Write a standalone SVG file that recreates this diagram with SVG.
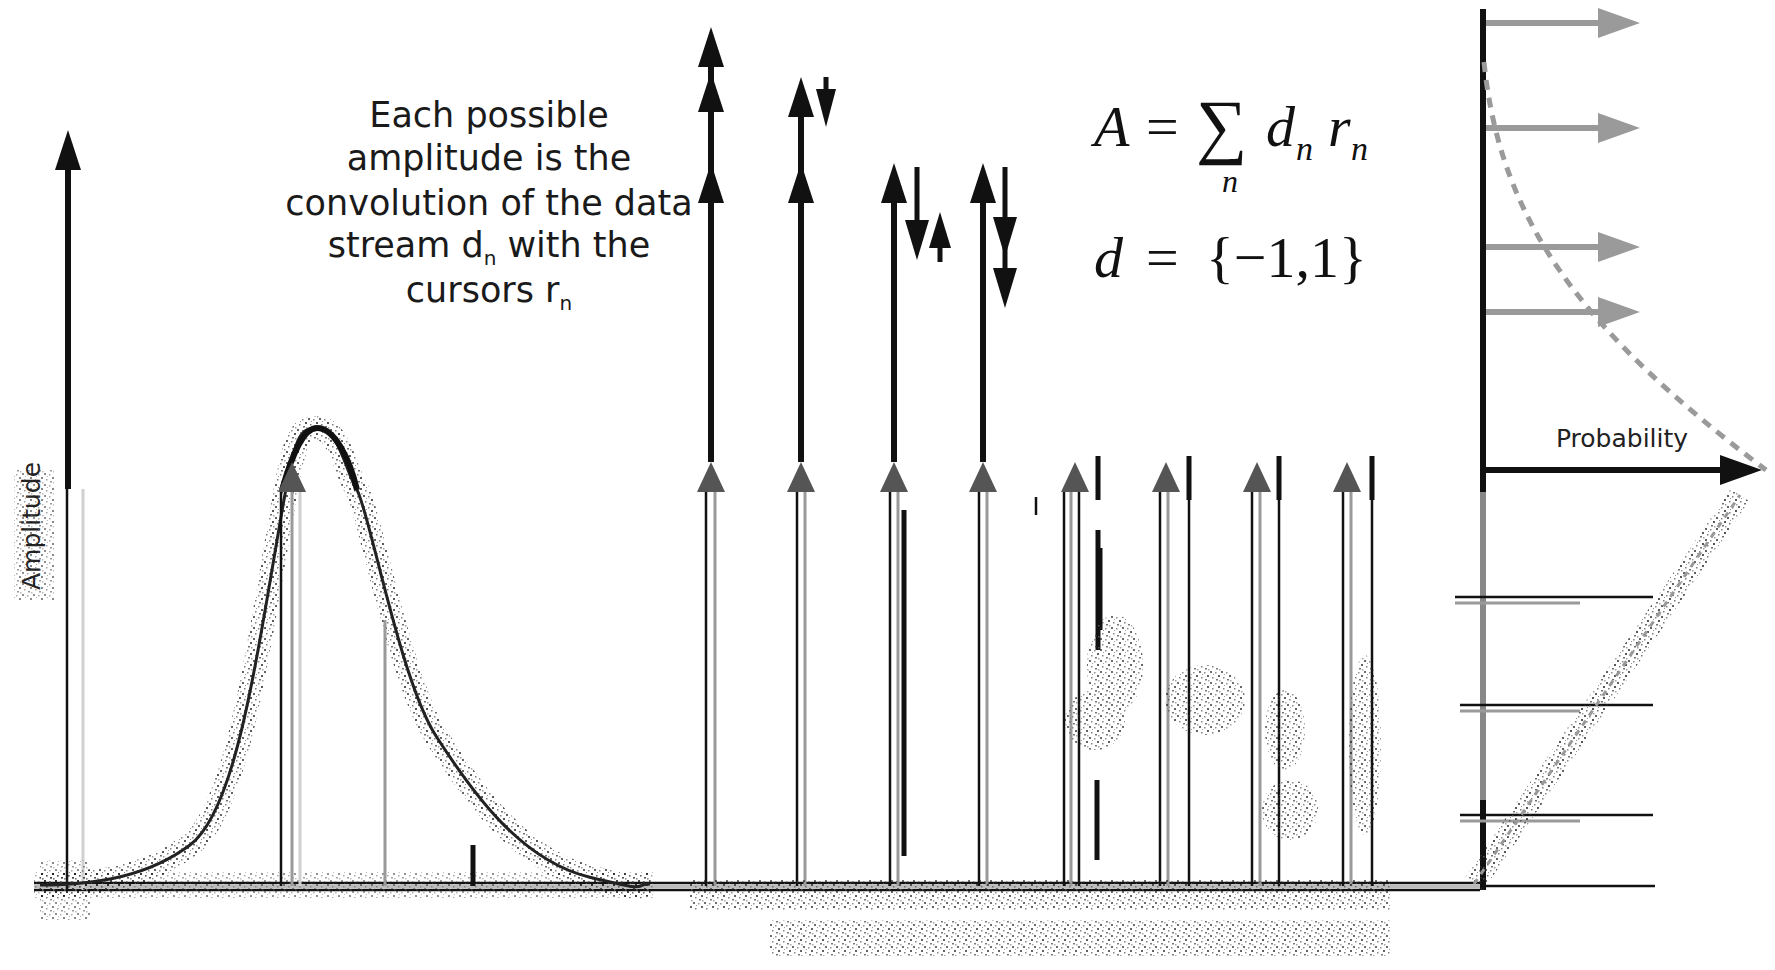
<svg xmlns="http://www.w3.org/2000/svg" xmlns:xlink="http://www.w3.org/1999/xlink" width="1775" height="970" viewBox="0 0 1775 970">
<defs>
<style>
.stem{stroke:#111;stroke-width:6;fill:none}
.stem5{stroke:#111;stroke-width:5;fill:none}
.thin{stroke:#111;stroke-width:2.5;fill:none}
.gry{stroke:#9a9a9a;stroke-width:3;fill:none}
.lg{stroke:#d0d0d0;stroke-width:3;fill:none}
.head{fill:#111}
.tri{fill:#555}
.garrow{stroke:#9a9a9a;stroke-width:6;fill:none}
.ghead{fill:#9a9a9a}
.cap{font-family:"DejaVu Sans",sans-serif;font-size:35px;fill:#1a1a1a;text-anchor:middle}
.sub{font-size:20px}
.lbl{font-family:"DejaVu Sans",sans-serif;font-size:25px;fill:#222}
.noise{fill:url(#noise)}
</style>
<pattern id="noise" width="11" height="11" patternUnits="userSpaceOnUse">
<rect x="0" y="0" width="2" height="2" fill="#222"/>
<rect x="5" y="1" width="1.5" height="1.5" fill="#555"/>
<rect x="8" y="4" width="2" height="2" fill="#111"/>
<rect x="2" y="6" width="1.5" height="1.5" fill="#444"/>
<rect x="6" y="8" width="2" height="1.5" fill="#333"/>
<rect x="9" y="9" width="1.5" height="1.5" fill="#777"/>
<rect x="3" y="3" width="1" height="1" fill="#666"/>
</pattern>
<path id="up" d="M0,0 L13,40 L-13,40 Z"/>
<path id="dn" d="M0,0 L12,-40 L-12,-40 Z"/>
<path id="upS" d="M0,0 L11,36 L-11,36 Z"/>
<path id="dnS" d="M0,0 L10,-38 L-10,-38 Z"/>
<path id="gtri" d="M0,0 L14,30 L-14,30 Z"/>
<path id="rgt" d="M0,0 L-42,-15 L-42,15 Z"/>
</defs>

<rect width="1775" height="970" fill="#fff"/>

<!-- baseline -->
<g id="baseline">
<line x1="34" y1="883" x2="1480" y2="883" class="thin"/>
<line x1="34" y1="886.5" x2="1480" y2="886.5" stroke="#bbb" stroke-width="3"/>
<line x1="34" y1="890" x2="1480" y2="890" class="thin"/>
<line x1="1480" y1="886" x2="1655" y2="886" class="thin"/>
<rect x="34" y="872" width="620" height="26" class="noise" opacity="0.45"/>
</g>

<!-- left amplitude axis -->
<g id="amplitude-axis">
<line x1="68" y1="160" x2="68" y2="489" class="stem"/>
<use href="#up" x="68" y="130" class="head"/>
<line x1="67" y1="489" x2="67" y2="890" class="thin"/>
<line x1="83" y1="489" x2="83" y2="890" class="lg"/>
<text class="lbl" transform="translate(40,526) rotate(-90)" text-anchor="middle">Amplitude</text>
<rect x="14" y="470" width="40" height="130" class="noise" opacity="0.5"/>
<rect x="40" y="860" width="50" height="60" class="noise" opacity="0.5"/>
</g>

<!-- pulse response -->
<g id="pulse">
<path d="M40 885 C100 885 150 875 190 845 S250 700 272 570 S295 428 317 428 S345 470 357 490 S400 680 436 736 S520 860 589 877 S630 884 650 884" fill="none" stroke="url(#noise)" stroke-width="24" opacity="0.7"/>
<path d="M40 885 C100 885 150 875 190 845 S250 700 272 570 S295 428 317 428 S345 470 357 490 S400 680 436 736 S520 860 589 877 S630 884 650 884" fill="none" stroke="#222" stroke-width="3"/>
<path d="M282 490 C292 455 303 428 317 428 C335 428 350 460 357 490" fill="none" stroke="#111" stroke-width="6"/>
<use href="#gtri" x="292" y="462" class="tri"/>
<line x1="281" y1="492" x2="281" y2="886" class="thin"/>
<line x1="292" y1="492" x2="292" y2="886" class="gry"/>
<line x1="300" y1="492" x2="300" y2="886" class="lg"/>
<line x1="385" y1="620" x2="385" y2="886" class="gry"/>
<line x1="473" y1="845" x2="473" y2="886" class="stem5"/>
</g>

<!-- cursor columns -->
<g id="cursor-1">
<line x1="711" y1="50" x2="711" y2="462" class="stem"/>
<use href="#up" x="711" y="27" class="head"/>
<use href="#up" x="711" y="72" class="head"/>
<use href="#up" x="711" y="163" class="head"/>
<use href="#gtri" x="711" y="462" class="tri"/>
<line x1="706" y1="492" x2="706" y2="886" class="thin"/>
<line x1="715" y1="492" x2="715" y2="886" class="gry"/>
</g>
<g id="cursor-2">
<line x1="801" y1="100" x2="801" y2="462" class="stem"/>
<use href="#up" x="801" y="77" class="head"/>
<use href="#up" x="801" y="163" class="head"/>
<line x1="826" y1="77" x2="826" y2="92" class="stem5"/>
<use href="#dnS" x="826" y="127" class="head"/>
<use href="#gtri" x="801" y="462" class="tri"/>
<line x1="797" y1="492" x2="797" y2="886" class="thin"/>
<line x1="805" y1="492" x2="805" y2="886" class="gry"/>
</g>
<g id="cursor-3">
<line x1="894" y1="190" x2="894" y2="462" class="stem"/>
<use href="#up" x="894" y="163" class="head"/>
<line x1="917" y1="167" x2="917" y2="225" class="stem5"/>
<use href="#dn" x="917" y="260" class="head"/>
<use href="#upS" x="940" y="212" class="head"/>
<line x1="940" y1="240" x2="940" y2="262" class="stem5"/>
<use href="#gtri" x="894" y="462" class="tri"/>
<line x1="890" y1="492" x2="890" y2="886" class="thin"/>
<line x1="898" y1="492" x2="898" y2="886" class="gry"/>
<line x1="904" y1="510" x2="904" y2="856" class="stem5"/>
</g>
<g id="cursor-4">
<line x1="983" y1="190" x2="983" y2="462" class="stem"/>
<use href="#up" x="983" y="163" class="head"/>
<line x1="1005" y1="167" x2="1005" y2="270" class="stem5"/>
<use href="#dn" x="1005" y="257" class="head"/>
<use href="#dn" x="1005" y="308" class="head"/>
<use href="#gtri" x="983" y="462" class="tri"/>
<line x1="979" y1="492" x2="979" y2="886" class="thin"/>
<line x1="987" y1="492" x2="987" y2="886" class="gry"/>
<line x1="1036" y1="497" x2="1036" y2="515" class="thin"/>
</g>
<g id="cursor-5">
<use href="#gtri" x="1075" y="462" class="tri"/>
<line x1="1098" y1="456" x2="1098" y2="500" class="stem5"/>
<line x1="1064" y1="492" x2="1064" y2="886" class="thin"/>
<line x1="1071" y1="492" x2="1071" y2="886" class="gry"/>
<line x1="1079" y1="492" x2="1079" y2="886" class="thin"/>
<line x1="1098" y1="530" x2="1098" y2="650" class="stem5"/>
</g>
<g id="cursor-6">
<use href="#gtri" x="1166" y="462" class="tri"/>
<line x1="1189" y1="456" x2="1189" y2="500" class="stem5"/>
<line x1="1160" y1="492" x2="1160" y2="886" class="thin"/>
<line x1="1168" y1="492" x2="1168" y2="886" class="gry"/>
<line x1="1189" y1="500" x2="1189" y2="886" class="thin"/>
</g>
<g id="cursor-7">
<use href="#gtri" x="1257" y="462" class="tri"/>
<line x1="1279" y1="456" x2="1279" y2="500" class="stem5"/>
<line x1="1252" y1="492" x2="1252" y2="886" class="thin"/>
<line x1="1260" y1="492" x2="1260" y2="886" class="gry"/>
<line x1="1279" y1="500" x2="1279" y2="886" class="thin"/>
<line x1="1100" y1="548" x2="1100" y2="630" class="stem5"/>
<line x1="1097" y1="780" x2="1097" y2="860" class="stem5"/>
</g>
<g id="cursor-8">
<use href="#gtri" x="1347" y="462" class="tri"/>
<line x1="1372" y1="456" x2="1372" y2="500" class="stem5"/>
<line x1="1343" y1="492" x2="1343" y2="886" class="thin"/>
<line x1="1351" y1="492" x2="1351" y2="886" class="gry"/>
<line x1="1372" y1="500" x2="1372" y2="886" class="thin"/>
</g>

<!-- noisy areas -->
<g id="noise-blobs" opacity="0.65">
<ellipse cx="1115" cy="665" rx="28" ry="50" class="noise"/>
<ellipse cx="1095" cy="720" rx="30" ry="30" class="noise"/>
<ellipse cx="1205" cy="700" rx="40" ry="35" class="noise"/>
<ellipse cx="1290" cy="810" rx="28" ry="30" class="noise"/>
<ellipse cx="1285" cy="730" rx="20" ry="40" class="noise"/>
<ellipse cx="1365" cy="745" rx="16" ry="90" class="noise"/>
<rect x="690" y="880" width="700" height="30" class="noise"/>
<rect x="770" y="920" width="620" height="36" class="noise"/>
</g>

<!-- probability axis -->
<g id="probability-axis">
<line x1="1483" y1="9" x2="1483" y2="492" class="stem"/>
<line x1="1483" y1="492" x2="1483" y2="800" stroke="#888" stroke-width="6"/>
<line x1="1483" y1="800" x2="1483" y2="890" class="stem"/>
<line x1="1483" y1="470" x2="1725" y2="470" class="stem"/>
<use href="#rgt" x="1762" y="470" class="head"/>
<text class="lbl" x="1622" y="447" text-anchor="middle">Probability</text>
<line x1="1486" y1="23" x2="1600" y2="23" class="garrow"/>
<use href="#rgt" x="1640" y="23" class="ghead"/>
<line x1="1486" y1="128" x2="1600" y2="128" class="garrow"/>
<use href="#rgt" x="1640" y="128" class="ghead"/>
<line x1="1486" y1="247" x2="1600" y2="247" class="garrow"/>
<use href="#rgt" x="1640" y="247" class="ghead"/>
<line x1="1486" y1="312" x2="1600" y2="312" class="garrow"/>
<use href="#rgt" x="1640" y="312" class="ghead"/>
<path d="M1484 62 C1500 220 1580 330 1766 470" fill="none" stroke="#9a9a9a" stroke-width="5" stroke-dasharray="10,8"/>
<line x1="1455" y1="597" x2="1653" y2="597" class="thin"/>
<line x1="1455" y1="603" x2="1580" y2="603" class="gry"/>
<line x1="1460" y1="705" x2="1653" y2="705" class="thin"/>
<line x1="1460" y1="711" x2="1580" y2="711" class="gry"/>
<line x1="1460" y1="815" x2="1653" y2="815" class="thin"/>
<line x1="1460" y1="821" x2="1580" y2="821" class="gry"/>
<line x1="1474" y1="884" x2="1740" y2="495" stroke="url(#noise)" stroke-width="22" opacity="0.7"/>
<line x1="1474" y1="884" x2="1740" y2="495" stroke="#999" stroke-width="3" stroke-dasharray="6,6"/>
</g>

<!-- caption -->
<g id="caption">
<text class="cap" x="489" y="127">Each possible</text>
<text class="cap" x="489" y="170">amplitude is the</text>
<text class="cap" x="489" y="215">convolution of the data</text>
<text class="cap" x="489" y="257">stream d<tspan class="sub" dy="8">n</tspan><tspan dy="-8"> with the</tspan></text>
<text class="cap" x="489" y="302">cursors r<tspan class="sub" dy="8">n</tspan></text>
</g>

<!-- equations -->
<g id="equations" fill="#111" font-family="Liberation Serif, Times New Roman, serif">
<text x="1094" y="146" font-style="italic" font-size="58" style="font-family:'Liberation Serif',serif">A</text>
<text x="1146" y="146" font-size="58" style="font-family:'Liberation Serif',serif">=</text>
<text x="1196" y="150" font-size="72" style="font-family:'Liberation Serif',serif">∑</text>
<text x="1222" y="192" font-style="italic" font-size="32" style="font-family:'Liberation Serif',serif">n</text>
<text x="1266" y="146" font-style="italic" font-size="58" style="font-family:'Liberation Serif',serif">d</text>
<text x="1296" y="160" font-style="italic" font-size="34" style="font-family:'Liberation Serif',serif">n</text>
<text x="1328" y="146" font-style="italic" font-size="58" style="font-family:'Liberation Serif',serif">r</text>
<text x="1351" y="160" font-style="italic" font-size="34" style="font-family:'Liberation Serif',serif">n</text>
<text x="1094" y="277" font-style="italic" font-size="58" style="font-family:'Liberation Serif',serif">d</text>
<text x="1146" y="277" font-size="58" style="font-family:'Liberation Serif',serif">=</text>
<text x="1206" y="277" font-size="58" style="font-family:'Liberation Serif',serif">{−1,1}</text>
</g>
</svg>
